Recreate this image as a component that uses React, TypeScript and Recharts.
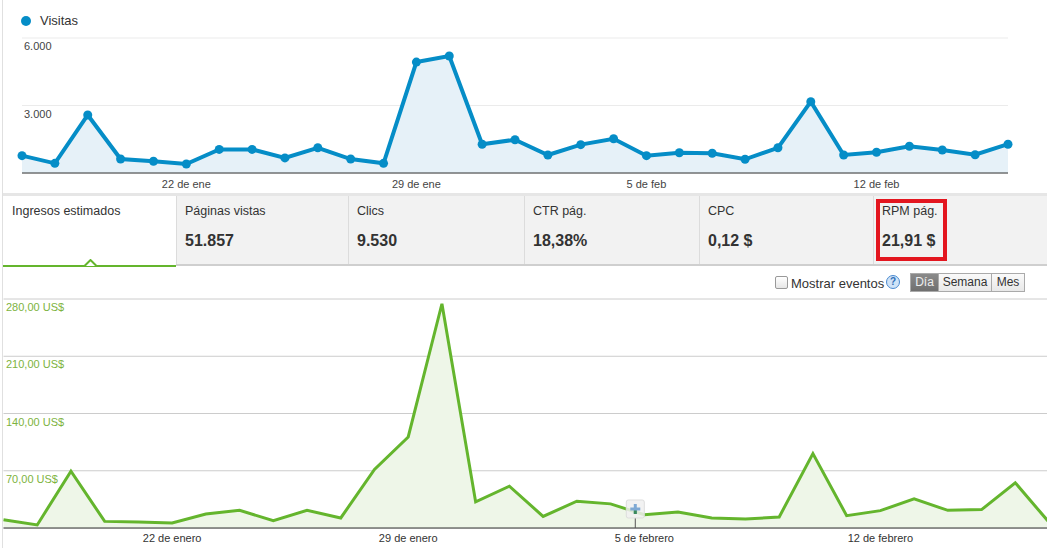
import { ComposedChart, Area, XAxis, YAxis, CartesianGrid, ReferenceDot, ReferenceLine } from 'recharts';

// Visitas (top chart)
const visitDays = [
  '17 de ene', '18 de ene', '19 de ene', '20 de ene', '21 de ene', '22 de ene', '23 de ene', '24 de ene',
  '25 de ene', '26 de ene', '27 de ene', '28 de ene', '29 de ene', '30 de ene', '31 de ene',
  '1 de feb', '2 de feb', '3 de feb', '4 de feb', '5 de feb', '6 de feb', '7 de feb', '8 de feb',
  '9 de feb', '10 de feb', '11 de feb', '12 de feb', '13 de feb', '14 de feb', '15 de feb', '16 de feb',
];
const visits = [
  770, 430, 2580, 620, 520, 400, 1050, 1050, 670, 1120, 620, 430, 4930, 5200, 1280,
  1480, 800, 1260, 1520, 770, 900, 880, 610, 1120, 3170, 800, 920, 1190, 1020, 810, 1280,
];
const visitTicks = ['22 de ene', '29 de ene', '5 de feb', '12 de feb'];
const visitYTicks = [0, 3000, 6000];

// Ingresos estimados (bottom chart)
const revenueDays = [
  '17 de enero', '18 de enero', '19 de enero', '20 de enero', '21 de enero', '22 de enero', '23 de enero',
  '24 de enero', '25 de enero', '26 de enero', '27 de enero', '28 de enero', '29 de enero', '30 de enero',
  '31 de enero', '1 de febrero', '2 de febrero', '3 de febrero', '4 de febrero', '5 de febrero',
  '6 de febrero', '7 de febrero', '8 de febrero', '9 de febrero', '10 de febrero', '11 de febrero',
  '12 de febrero', '13 de febrero', '14 de febrero', '15 de febrero', '16 de febrero', '17 de febrero',
];
const revenue = [
  10.2, 3.7, 69.5, 8.1, 7.4, 6.1, 17.2, 21.6, 9.0, 21.6, 12.3, 71.6, 111.3, 274.2, 31.9, 51.1,
  14.2, 32.7, 29.5, 16.3, 19.6, 12.3, 11.0, 13.5, 90.9, 15.1, 21.2, 35.6, 21.6, 22.5, 55.3, 7.0,
];
const revenueTicks = ['22 de enero', '29 de enero', '5 de febrero', '12 de febrero'];
const revenueYTicks = [0, 70, 140, 210, 280];
const eventDay = '5 de febrero';

// Scorecard tabs
const tabLabels = ['Ingresos estimados', 'Páginas vistas', 'Clics', 'CTR pág.', 'CPC', 'RPM pág.'];
const tabValues = ['', '51.857', '9.530', '18,38%', '0,12 $', '21,91 $'];
const tabLefts = [3, 176, 348, 524, 699, 873];

const BLUE = '#058dc7';
const GREEN = '#64b52d';
const FONT = '"Liberation Sans", Arial, sans-serif';

const topMargin = { top: 38, right: 39, bottom: 0, left: 22 };
const bottomMargin = { top: 9, right: 1, bottom: 0, left: 3.5 };

const visitData = visitDays.map((day, i) => ({ day, visits: visits[i] }));
const revenueData = revenueDays.map((day, i) => ({ day, revenue: revenue[i] }));

const thousands = (v: number) => String(v).replace(/\B(?=(\d{3})+(?!\d))/g, '.');
const usd = (v: number) => `${v.toFixed(2).replace('.', ',')} US$`;

function TopXTick({ x, y, payload }: any) {
  if (!visitTicks.includes(payload.value)) return <g />;
  return (
    <text x={x} y={y + 15} textAnchor="middle" fontSize={11} fill="#444" fontFamily={FONT}>
      {payload.value}
    </text>
  );
}

function BottomXTick({ x, y, payload }: any) {
  if (!revenueTicks.includes(payload.value)) return <g />;
  return (
    <text x={x} y={y + 14} textAnchor="middle" fontSize={11} fill="#333" fontFamily={FONT}>
      {payload.value}
    </text>
  );
}

// value label drawn just under its gridline, inside the plot
const gridLabel = (text: string, color: string, dx: number) => (props: any) => {
  const vb = props.viewBox || {};
  return (
    <text x={vb.x + dx} y={vb.y + 12} fontSize={11} fill={color} fontFamily={FONT}>
      {text}
    </text>
  );
};

// small "+" annotation marker sitting on the axis
function EventMarker({ cx, cy }: any) {
  const mx = cx - 9;
  return (
    <g>
      <line x1={mx} x2={mx} y1={cy - 10} y2={cy} stroke="#555" strokeWidth={1} />
      <rect x={mx - 9} y={cy - 28} width={18} height={18} rx={2} fill="rgba(240,240,240,0.85)" stroke="#ddd" />
      <rect x={mx - 1.5} y={cy - 24} width={3} height={10} fill="#7fa9d4" />
      <rect x={mx - 5} y={cy - 20.5} width={10} height={3} fill="#7fa9d4" />
      <rect x={mx - 1.5} y={cy - 17.5} width={3} height={3.5} fill="#3a8a5a" />
    </g>
  );
}

export default function App() {
  return (
    <div
      style={{
        position: 'absolute', left: 0, top: 0, width: 1047, height: 548, overflow: 'hidden',
        background: '#fff', fontFamily: FONT, color: '#333',
      }}
    >
      {/* left border */}
      <div style={{ position: 'absolute', left: 2, top: 0, width: 1, height: 548, background: '#e0e0e0' }} />

      {/* legend */}
      <div style={{ position: 'absolute', left: 21, top: 16, width: 10, height: 10, borderRadius: 5, background: BLUE }} />
      <div style={{ position: 'absolute', left: 40, top: 13, fontSize: 13, lineHeight: '16px' }}>Visitas</div>

      <div style={{ position: 'absolute', left: 0, top: 0 }}>
        <ComposedChart width={1047} height={195} data={visitData} margin={topMargin}>
          <CartesianGrid horizontal vertical={false} stroke="#ebebeb" />
          <XAxis
            dataKey="day"
            interval={0}
            height={22}
            tickSize={0}
            tickMargin={0}
            tickLine={false}
            axisLine={{ stroke: '#333' }}
            tick={<TopXTick />}
          />
          <YAxis domain={[0, 6000]} ticks={visitYTicks} hide />
          {visitYTicks.filter((v) => v > 0).map((v) => (
            <ReferenceLine key={v} y={v} stroke="none" label={gridLabel(thousands(v), '#444', 2)} />
          ))}
          <Area
            type="linear"
            dataKey="visits"
            stroke={BLUE}
            strokeWidth={4}
            fill="#e6f1f8"
            fillOpacity={1}
            dot={{ r: 4.5, fill: BLUE, stroke: BLUE, strokeWidth: 0 }}
            activeDot={false}
            isAnimationActive={false}
          />
        </ComposedChart>
      </div>

      {/* tabs */}
      <div style={{ position: 'absolute', left: 3, top: 193, width: 1044, height: 3, background: '#e6e6e6' }} />
      <div style={{ position: 'absolute', left: 176, top: 196, width: 871, height: 68, background: '#f2f2f2' }} />
      <div style={{ position: 'absolute', left: 176, top: 264, width: 871, height: 2, background: '#cfcfcf' }} />
      <div style={{ position: 'absolute', left: 3, top: 265, width: 173, height: 2, background: GREEN }} />
      <svg style={{ position: 'absolute', left: 84, top: 259 }} width={13} height={8}>
        <polyline points="0.5,7 6.5,1 12.5,7" fill="#fff" stroke={GREEN} strokeWidth={2} />
      </svg>
      {tabLefts.map((left, i) => (
        <div key={i}>
          {i > 0 && (
            <div style={{ position: 'absolute', left, top: 196, width: 1, height: 68, background: '#dcdcdc' }} />
          )}
          <div style={{ position: 'absolute', left: left + 9, top: 203, fontSize: 12.5, lineHeight: '16px', color: '#333' }}>
            {tabLabels[i]}
          </div>
          <div style={{ position: 'absolute', left: left + 9, top: 231, fontSize: 16, fontWeight: 'bold', lineHeight: '20px', color: '#333' }}>
            {tabValues[i]}
          </div>
        </div>
      ))}
      <div
        style={{
          position: 'absolute', left: 876, top: 199, width: 63, height: 54,
          border: '4px solid #e3161f',
        }}
      />

      {/* controls */}
      <div
        style={{
          position: 'absolute', left: 775, top: 276, width: 11, height: 11,
          border: '1px solid #999', borderRadius: 2, background: 'linear-gradient(#fff, #e6e6e6)',
        }}
      />
      <div style={{ position: 'absolute', left: 791, top: 276, fontSize: 13, lineHeight: '16px', color: '#333' }}>
        Mostrar eventos
      </div>
      <div
        style={{
          position: 'absolute', left: 886, top: 275, width: 12, height: 12, borderRadius: 7,
          border: '1px solid #4a8ad0', background: '#cfe3f7', color: '#2f6fb8',
          fontSize: 10, fontWeight: 'bold', lineHeight: '12px', textAlign: 'center',
        }}
      >
        ?
      </div>
      <div style={{ position: 'absolute', left: 910, top: 273, display: 'flex', height: 19 }}>
        {['Día', 'Semana', 'Mes'].map((t, i) => (
          <div
            key={t}
            style={{
              width: [27, 52, 32][i], height: 17, fontSize: 12, lineHeight: '17px', textAlign: 'center',
              border: '1px solid #aaa', marginLeft: i ? -1 : 0,
              background: i === 0 ? 'linear-gradient(#8a8a8a, #6f6f6f)' : 'linear-gradient(#fafafa, #e8e8e8)',
              color: i === 0 ? '#eee' : '#333',
            }}
          >
            {t}
          </div>
        ))}
      </div>

      <div style={{ position: 'absolute', left: 0, top: 290 }}>
        <ComposedChart width={1050} height={258} data={revenueData} margin={bottomMargin}>
          <CartesianGrid horizontal vertical={false} stroke="#cccccc" />
          <XAxis
            dataKey="day"
            interval={0}
            height={20}
            tickSize={0}
            tickMargin={0}
            tickLine={false}
            axisLine={{ stroke: '#333' }}
            tick={<BottomXTick />}
          />
          <YAxis domain={[0, 280]} ticks={revenueYTicks} hide />
          {revenueYTicks.filter((v) => v > 0).map((v) => (
            <ReferenceLine key={v} y={v} stroke="none" label={gridLabel(usd(v), '#7db340', 2.5)} />
          ))}
          <Area
            type="linear"
            dataKey="revenue"
            stroke={GREEN}
            strokeWidth={3}
            fill="#eef6e8"
            fillOpacity={1}
            dot={false}
            activeDot={false}
            isAnimationActive={false}
          />
          <ReferenceDot x={eventDay} y={0} r={0} shape={<EventMarker />} />
        </ComposedChart>
      </div>
    </div>
  );
}
